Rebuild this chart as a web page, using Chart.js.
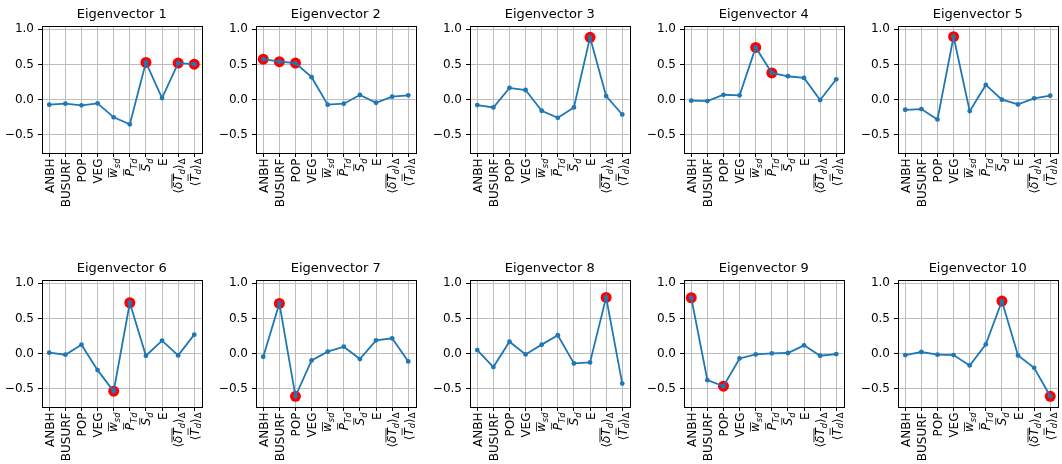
<!DOCTYPE html>
<html>
<head>
<meta charset="utf-8">
<script src="https://cdn.jsdelivr.net/npm/chart.js@4.4.1/dist/chart.umd.min.js"></script>
<style>
  html, body { margin: 0; padding: 0; background: #fff; overflow: hidden; }
  #wrap { position: relative; width: 1062px; height: 464px; }
  #wrap canvas { position: absolute; }
</style>
</head>
<body>
<div id="wrap"></div>
<script>
// Variables (x categories)
const categories = ['ANBH', 'BUSURF', 'POP', 'VEG', 'w_sd', 'P_Td', 'S_d', 'E', '<δT_d>_Δ', '<T_d>_Δ'];

// Rich tick labels: it = italic, bar = overline, sub = subscript
const tickLabelRuns = [
  [{ t: 'ANBH' }],
  [{ t: 'BUSURF' }],
  [{ t: 'POP' }],
  [{ t: 'VEG' }],
  [{ t: 'w', it: 1, bar: 1 }, { t: 'sd', it: 1, sub: 1 }],
  [{ t: 'P', it: 1, bar: 1 }, { t: 'Td', it: 1, sub: 1 }],
  [{ t: 'S', it: 1, bar: 1 }, { t: 'd', it: 1, sub: 1 }],
  [{ t: 'E' }],
  [{ t: '⟨' }, { t: 'δT', it: 1, bar: 1 }, { t: 'd', it: 1, sub: 1 }, { t: '⟩' }, { t: 'Δ', sub: 1 }],
  [{ t: '⟨' }, { t: 'T', it: 1, bar: 1 }, { t: 'd', it: 1, sub: 1 }, { t: '⟩' }, { t: 'Δ', sub: 1 }]
];

const yTicks = [-0.5, 0.0, 0.5, 1.0];

// Loadings of each eigenvector on the ten variables
const eigenvector1  = [-0.070, -0.057, -0.080, -0.052, -0.250, -0.350,  0.530,  0.024,  0.520,  0.505];
const eigenvector2  = [ 0.575,  0.540,  0.520,  0.320, -0.070, -0.057,  0.067, -0.043,  0.043,  0.062];
const eigenvector3  = [-0.076, -0.110,  0.167,  0.138, -0.157, -0.257, -0.110,  0.886,  0.052, -0.210];
const eigenvector4  = [-0.014, -0.020,  0.070,  0.062,  0.743,  0.380,  0.333,  0.310, -0.005,  0.290];
const eigenvector5  = [-0.143, -0.133, -0.280,  0.895, -0.162,  0.210,  0.000, -0.067,  0.019,  0.057];
const eigenvector6  = [ 0.014, -0.014,  0.128, -0.233, -0.533,  0.724, -0.029,  0.186, -0.024,  0.271];
const eigenvector7  = [-0.043,  0.714, -0.605, -0.095,  0.029,  0.100, -0.076,  0.190,  0.219, -0.110];
const eigenvector8  = [ 0.052, -0.190,  0.171, -0.010,  0.129,  0.262, -0.138, -0.124,  0.800, -0.424];
const eigenvector9  = [ 0.795, -0.376, -0.462, -0.067, -0.010,  0.005,  0.010,  0.119, -0.029, -0.005];
const eigenvector10 = [-0.019,  0.024, -0.014, -0.019, -0.167,  0.133,  0.748, -0.024, -0.200, -0.605];

// Indices of the dominant variables marked in red
const dominant1  = [6, 8, 9];
const dominant2  = [0, 1, 2];
const dominant3  = [7];
const dominant4  = [4, 5];
const dominant5  = [3];
const dominant6  = [4, 5];
const dominant7  = [1, 2];
const dominant8  = [8];
const dominant9  = [0, 2];
const dominant10 = [6, 9];

const eigenvectors = [eigenvector1, eigenvector2, eigenvector3, eigenvector4, eigenvector5,
                      eigenvector6, eigenvector7, eigenvector8, eigenvector9, eigenvector10];
const dominants = [dominant1, dominant2, dominant3, dominant4, dominant5,
                   dominant6, dominant7, dominant8, dominant9, dominant10];

const FONT = '"DejaVu Sans", sans-serif';
const TICK_FS = 12;
Chart.defaults.font.family = FONT;

const PANEL_W = 207;
const AXIS_W = 42;
const PLOT_TOP = 26;
const PLOT_H = 127;
const COL_X = [0, 214, 428, 642, 856];
const ROWS = [{ top: 0, h: 254 }, { top: 254, h: 210 }];

// Closed box around the plot area
const framePlugin = {
  id: 'frame',
  afterDatasetsDraw(chart) {
    const { ctx, chartArea: a } = chart;
    ctx.save();
    ctx.strokeStyle = '#000';
    ctx.lineWidth = 1;
    const l = Math.round(a.left) + 0.5, r = Math.round(a.right) + 0.5;
    const t = Math.round(a.top) + 0.5, b = Math.round(a.bottom) + 0.5;
    ctx.strokeRect(l, t, r - l, b - t);
    ctx.restore();
  }
};

// Vertical x labels with overlines and subscripts
const mathLabelPlugin = {
  id: 'mathLabels',
  afterDraw(chart) {
    const { ctx, chartArea, scales } = chart;
    const xs = scales.x;
    ctx.save();
    ctx.fillStyle = '#000';
    ctx.textAlign = 'left';
    ctx.textBaseline = 'alphabetic';
    tickLabelRuns.forEach((runs, i) => {
      const px = xs.getPixelForValue(i);
      const py = chartArea.bottom + 4 + 1.5;
      const pieces = runs.map(r => {
        const size = r.sub ? TICK_FS * 0.7 : TICK_FS;
        const font = (r.it ? 'italic ' : '') + size + 'px ' + FONT;
        ctx.font = font;
        const m = ctx.measureText(r.t);
        const shift = r.sub ? TICK_FS * 0.22 : 0;
        let top = -m.actualBoundingBoxAscent + shift;
        const bottom = m.actualBoundingBoxDescent + shift;
        if (r.bar) top -= TICK_FS * 0.18;
        return { r, font, w: m.width, shift, top, bottom, asc: m.actualBoundingBoxAscent };
      });
      const total = pieces.reduce((s, p) => s + p.w, 0);
      const top = Math.min(...pieces.map(p => p.top));
      const bottom = Math.max(...pieces.map(p => p.bottom));
      const base = -(top + bottom) / 2;
      ctx.save();
      ctx.translate(px, py);
      ctx.rotate(-Math.PI / 2);
      let cx = -total;
      pieces.forEach(p => {
        ctx.font = p.font;
        ctx.fillText(p.r.t, cx, base + p.shift);
        if (p.r.bar) {
          const by = base + p.shift - p.asc - TICK_FS * 0.12;
          ctx.strokeStyle = '#000';
          ctx.lineWidth = 0.8;
          ctx.beginPath();
          ctx.moveTo(cx + 0.5, by);
          ctx.lineTo(cx + p.w, by);
          ctx.stroke();
        }
        cx += p.w;
      });
      ctx.restore();
    });
    ctx.restore();
  }
};

function formatTick(v) {
  const s = Math.abs(v).toFixed(1);
  return v < 0 ? '\u2212' + s : s;
}

function makePanel(k) {
  const values = eigenvectors[k];
  const marked = dominants[k];
  const row = ROWS[Math.floor(k / 5)];
  const col = k % 5;
  const canvas = document.createElement('canvas');
  canvas.width = PANEL_W;
  canvas.height = row.h;
  canvas.style.left = COL_X[col] + 'px';
  canvas.style.top = row.top + 'px';
  canvas.style.width = PANEL_W + 'px';
  canvas.style.height = row.h + 'px';
  document.getElementById('wrap').appendChild(canvas);

  const gridCommon = {
    color: '#bdbdbd',
    lineWidth: 1,
    drawTicks: true,
    tickLength: 4,
    tickColor: '#000',
    tickWidth: 1
  };

  new Chart(canvas, {
    type: 'line',
    data: {
      datasets: [
        {
          data: values.map((v, i) => ({ x: i, y: v })),
          borderColor: '#1f77b4',
          backgroundColor: '#1f77b4',
          borderWidth: 1.8,
          pointRadius: 2.4,
          pointBorderWidth: 0,
          tension: 0,
          order: 1
        },
        {
          data: marked.map(i => ({ x: i, y: values[i] })),
          showLine: false,
          pointRadius: 5.5,
          pointBorderWidth: 0,
          backgroundColor: '#ff0000',
          borderColor: '#ff0000',
          order: 2
        }
      ]
    },
    options: {
      responsive: false,
      animation: false,
      events: [],
      layout: { padding: { left: 0, right: 1, top: 0, bottom: 0 } },
      plugins: {
        legend: { display: false },
        tooltip: { enabled: false },
        title: {
          display: true,
          fullSize: false,
          text: 'Eigenvector ' + (k + 1),
          color: '#000',
          font: { family: FONT, size: 13, weight: 'normal', lineHeight: 1.2 },
          padding: { top: 7, bottom: 3.4 }
        }
      },
      scales: {
        x: {
          type: 'linear',
          min: -0.45,
          max: 9.45,
          afterBuildTicks: s => { s.ticks = categories.map((_, i) => ({ value: i })); },
          afterFit: s => { s.height = row.h - PLOT_TOP - PLOT_H; },
          ticks: { display: false },
          grid: gridCommon,
          border: { display: true, color: '#000', width: 1 }
        },
        y: {
          min: -0.757,
          max: 1.047,
          afterBuildTicks: s => { s.ticks = yTicks.map(v => ({ value: v })); },
          afterFit: s => { s.width = AXIS_W; },
          ticks: {
            callback: v => formatTick(v),
            color: '#000',
            font: { family: FONT, size: TICK_FS },
            padding: 4
          },
          grid: gridCommon,
          border: { display: true, color: '#000', width: 1 }
        }
      }
    },
    plugins: [framePlugin, mathLabelPlugin]
  });
}

for (let k = 0; k < 10; k++) makePanel(k);
</script>
</body>
</html>
